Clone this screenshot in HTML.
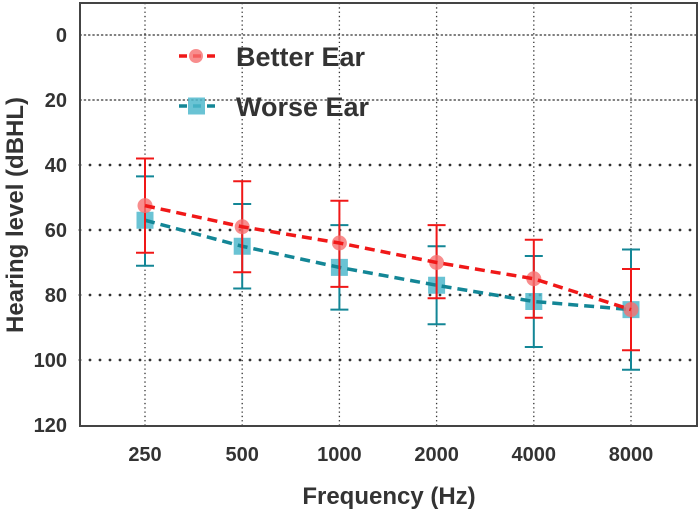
<!DOCTYPE html>
<html><head><meta charset="utf-8"><style>
body{margin:0;background:#fff;}
svg{display:block;font-family:"Liberation Sans",Arial,sans-serif;}
</style></head><body>
<svg id="chart" width="700" height="513"></svg>
<script>
const categories=["250","500","1000","2000","4000","8000"];
const yTicks=[0,20,40,60,80,100,120];
const betterMean=[52.5,59,64,70,75,84.5];
const betterLow=[38,45,51,58.5,63,72];
const betterHigh=[67,73,77.5,81,87,97];
const worseMean=[57,65,71.5,77,82,84.5];
const worseLow=[43.5,52,58.5,65,68,66];
const worseHigh=[71,78,84.5,89,96,103];

const NS="http://www.w3.org/2000/svg";
const svg=document.getElementById('chart');
const L=80,R=697,T=3,B=426;
function x(i){return 145+97.2*i;}
function y(v){return 35+3.25*v;}
function mk(tag,attrs,parent){const e=document.createElementNS(NS,tag);for(const k in attrs)e.setAttribute(k,attrs[k]);(parent||svg).appendChild(e);return e;}

const grid=mk('g',{});


categories.forEach((c,i)=>{mk('line',{x1:x(i),x2:x(i),y1:T,y2:B,stroke:'#333','stroke-width':1.3,'stroke-dasharray':'1.3 3'},grid);});
yTicks.forEach(v=>{
  if(v===120)return;
  const big=v>=40;
  mk('line',{x1:L,x2:R,y1:y(v),y2:y(v),stroke:'#333','stroke-width':big?2.8:1.3,'stroke-linecap':'round','stroke-dasharray':big?'0 10':'1.3 3'},grid);
});
const frame=mk('rect',{x:L,y:T,width:R-L,height:B-T,fill:'none',stroke:'#444','stroke-width':2});



yTicks.forEach(v=>{
  const t=mk('text',{x:67,y:y(v)+7,'text-anchor':'end','font-size':20,'font-weight':'bold',fill:'#333'});
  t.textContent=v;
  
  
});
categories.forEach((c,i)=>{
  const t=mk('text',{x:x(i),y:461,'text-anchor':'middle','font-size':20,'font-weight':'bold',fill:'#333'});
  t.textContent=c;
  
  
});
const xt=mk('text',{x:389,y:504,'text-anchor':'middle','font-size':24,'font-weight':'bold',fill:'#333'});
xt.textContent='Frequency (Hz)';


const yt=mk('text',{x:0,y:0,'text-anchor':'middle','font-size':24,'font-weight':'bold',fill:'#333',transform:'translate(23,215) rotate(-90)'});
yt.textContent='Hearing level (dBHL)';



function series(mean,low,high,color,fillc,shape,name){
  const g=mk('g',{});
  
  
  mean.forEach((v,i)=>{
    mk('line',{x1:x(i),x2:x(i),y1:y(low[i]),y2:y(high[i]),stroke:color,'stroke-width':2},g);
    mk('line',{x1:x(i)-9,x2:x(i)+9,y1:y(low[i]),y2:y(low[i]),stroke:color,'stroke-width':2},g);
    mk('line',{x1:x(i)-9,x2:x(i)+9,y1:y(high[i]),y2:y(high[i]),stroke:color,'stroke-width':2},g);
  });
  mean.forEach((v,i)=>{
    if(shape==='circle')mk('circle',{cx:x(i),cy:y(v),r:7.5,fill:fillc},g);
    else mk('rect',{x:x(i)-8.5,y:y(v)-8.5,width:17,height:17,fill:fillc},g);
  });
  mk('polyline',{points:mean.map((v,i)=>x(i)+','+y(v)).join(' '),fill:'none',stroke:color,'stroke-width':3.5,'stroke-dasharray':'10 6'},g);
}
series(worseMean,worseLow,worseHigh,'#138696','rgba(80,184,204,0.85)','square','worse-ear-series');
series(betterMean,betterLow,betterHigh,'#f01818','rgba(246,112,112,0.8)','circle','better-ear-series');

function legend(yy,color,fillc,shape,label,name){
  const g=mk('g',{});
  
  
  mk('line',{x1:179,x2:215,y1:yy,y2:yy,stroke:color,'stroke-width':3.5,'stroke-dasharray':'8 6'},g);
  if(shape==='circle')mk('circle',{cx:196,cy:yy,r:7,fill:fillc},g);
  else mk('rect',{x:188,y:yy-8.5,width:17,height:17,fill:fillc},g);
  const t=mk('text',{x:236,y:yy+10,'font-size':27,'font-weight':'bold',fill:'#333'},g);
  t.textContent=label;
}
legend(56,'#f01818','rgba(246,112,112,0.8)','circle','Better Ear','legend-better-ear');
legend(106,'#138696','rgba(80,184,204,0.85)','square','Worse Ear','legend-worse-ear');
</script>
</body></html>
